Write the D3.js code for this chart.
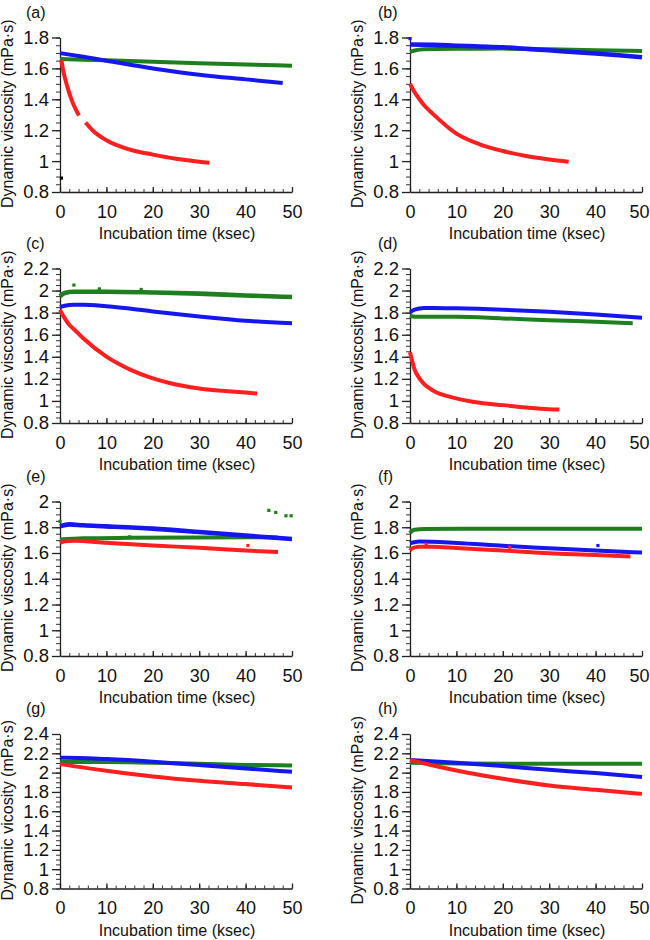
<!DOCTYPE html>
<html><head><meta charset="utf-8">
<script src="https://cdn.jsdelivr.net/npm/d3@7"></script>
<style>
body{margin:0;background:#fff}
svg{display:block}
text{font-family:"Liberation Sans",Arial,sans-serif;fill:#111}
</style>
</head><body>
<svg id="chart" width="650" height="940"></svg>
<script>
// ---------- DATA (time in ksec, dynamic viscosity in mPa·s) ----------
const panelLabels = ["(a)","(b)","(c)","(d)","(e)","(f)","(g)","(h)"];
const xTickValues = [0,10,20,30,40,50];
const yTicks18 = [0.8,1,1.2,1.4,1.6,1.8];
const yTicks20 = [0.8,1,1.2,1.4,1.6,1.8,2];
const yTicks22 = [0.8,1,1.2,1.4,1.6,1.8,2,2.2];
const yTicks24 = [0.8,1,1.2,1.4,1.6,1.8,2,2.2,2.4];
const xLabel = "Incubation time (ksec)";
const yLabel = "Dynamic viscosity (mPa·s)";
const yLabelG = "Dynamic vicosity (mPa·s)";

// (a)
const aGreen = [[0,1.661],[10,1.652],[20,1.643],[30,1.634],[40,1.625],[50,1.617]];
const aBlue  = [[0,1.699],[5,1.675],[10,1.65],[20,1.60],[30,1.559],[40,1.529],[48,1.506]];
const aRed1  = [[0.3,1.655],[0.6,1.60],[1,1.545],[1.5,1.49],[2,1.44],[3,1.36],[4.1,1.295]];
const aRed2  = [[5.5,1.25],[7,1.20],[10,1.135],[15,1.075],[20,1.042],[25,1.015],[30,0.996],[32.2,0.99]];
const aDots  = [[0.3,0.89]];
// (b)
const bGreen = [[0,1.707],[1,1.716],[3,1.724],[10,1.727],[20,1.728],[30,1.724],[40,1.717],[50,1.713]];
const bBlue  = [[0,1.755],[5,1.752],[10,1.747],[15,1.742],[20,1.737],[25,1.727],[30,1.717],[35,1.706],[40,1.696],[45,1.685],[50,1.672]];
const bRed   = [[0,1.50],[1,1.446],[2,1.402],[3,1.363],[5,1.304],[10,1.178],[15,1.109],[20,1.065],[25,1.033],[30,1.011],[34.2,0.996]];
const bDots  = [[0,1.793]];
// (c)
const cGreen = [[0,1.948],[1,1.978],[3,1.99],[10,1.99],[20,1.983],[30,1.972],[40,1.955],[50,1.942]];
const cBlue  = [[0,1.851],[1,1.863],[3,1.871],[5,1.871],[10,1.857],[20,1.811],[30,1.766],[40,1.727],[50,1.703]];
const cRed   = [[0,1.826],[1,1.75],[2,1.69],[3,1.65],[5,1.568],[10,1.401],[15,1.286],[20,1.204],[25,1.149],[30,1.113],[35,1.092],[40,1.076],[42.5,1.067]];
const cGreenDots = [[3,2.05],[8.5,2.015],[17.5,2.01]];
// (d)
const dGreen = [[0,1.772],[1,1.763],[5,1.762],[10,1.762],[20,1.748],[30,1.732],[40,1.717],[48,1.705]];
const dBlue  = [[0,1.803],[1,1.827],[3,1.842],[5,1.842],[10,1.839],[20,1.827],[30,1.809],[40,1.784],[50,1.754]];
const dRed   = [[0,1.442],[0.3,1.39],[1,1.283],[2,1.207],[3,1.155],[5,1.093],[10,1.023],[15,0.983],[20,0.962],[25,0.941],[30,0.925],[32.2,0.922]];
// (e)
const eGreen = [[0,1.704],[5,1.714],[15,1.718],[30,1.721],[45,1.722],[47,1.72]];
const eBlue  = [[0,1.807],[2,1.822],[5,1.815],[10,1.807],[20,1.789],[30,1.763],[40,1.735],[50,1.709]];
const eRed   = [[0,1.678],[1,1.691],[3,1.695],[10,1.68],[20,1.659],[30,1.64],[40,1.619],[47,1.607]];
const eGreenDots = [[0,1.846],[15,1.725],[45,1.931],[46.5,1.915],[48.7,1.889],[49.8,1.889]];
const eRedDots = [[40.5,1.658]];
// (f)
const fGreen = [[0,1.754],[0.5,1.775],[1,1.781],[3,1.787],[20,1.788],[50,1.788]];
const fBlue  = [[0,1.676],[2,1.689],[10,1.678],[20,1.656],[30,1.637],[40,1.619],[50,1.603]];
const fRed   = [[0,1.619],[0.5,1.637],[2,1.648],[5,1.648],[10,1.638],[20,1.62],[30,1.598],[40,1.585],[47.5,1.572]];
const fBlueDots = [[40.5,1.658]];
const fRedDots = [[3.5,1.668],[21.5,1.645]];
// (g)
const gGreen = [[0,2.11],[10,2.11],[20,2.102],[30,2.093],[40,2.08],[50,2.075]];
const gBlue  = [[0,2.155],[1,2.155],[10,2.14],[20,2.113],[30,2.078],[40,2.043],[50,2.009]];
const gRed   = [[0,2.088],[10,2.019],[20,1.96],[30,1.915],[40,1.881],[50,1.846]];
// (h)
const hGreen = [[0,2.103],[10,2.095],[25,2.092],[50,2.092]];
const hBlue  = [[0,2.13],[10,2.102],[20,2.068],[30,2.029],[40,1.995],[50,1.955]];
const hRed   = [[0,2.13],[5,2.074],[10,2.022],[20,1.936],[30,1.867],[40,1.822],[50,1.78]];

// ---------- STYLE / LAYOUT ----------
const RED = "#ff1f1f", GREEN = "#1f7f1f", BLUE = "#1616ee";
const colX = [60, 410];
const plotW = 232;
const rowBottom = [192, 423, 656, 888.5];
const plotH = 154.5;
const pageW = 650;

const panels = [
  {lab:0, col:0,row:0, yt:yTicks18, yl:yLabel, lines:[[aGreen,GREEN],[aBlue,BLUE],[aRed1,RED],[aRed2,RED]], dots:[[aDots,"#000"]]},
  {lab:1, col:1,row:0, yt:yTicks18, yl:yLabel, lines:[[bGreen,GREEN],[bBlue,BLUE],[bRed,RED]], dots:[[bDots,BLUE]], noisy:[1]},
  {lab:2, col:0,row:1, yt:yTicks22, yl:yLabel, lines:[[cGreen,GREEN],[cBlue,BLUE],[cRed,RED]], dots:[[cGreenDots,GREEN]], noisy:[0]},
  {lab:3, col:1,row:1, yt:yTicks22, yl:yLabel, lines:[[dGreen,GREEN],[dBlue,BLUE],[dRed,RED]], dots:[]},
  {lab:4, col:0,row:2, yt:yTicks20, yl:yLabel, lines:[[eGreen,GREEN],[eBlue,BLUE],[eRed,RED]], dots:[[eGreenDots,GREEN],[eRedDots,RED]], noisy:[1]},
  {lab:5, col:1,row:2, yt:yTicks20, yl:yLabel, lines:[[fGreen,GREEN],[fBlue,BLUE],[fRed,RED]], dots:[[fBlueDots,BLUE],[fRedDots,RED]]},
  {lab:6, col:0,row:3, yt:yTicks24, yl:yLabelG, lines:[[gGreen,GREEN],[gBlue,BLUE],[gRed,RED]], dots:[]},
  {lab:7, col:1,row:3, yt:yTicks24, yl:yLabel, lines:[[hGreen,GREEN],[hBlue,BLUE],[hRed,RED]], dots:[]}
];

const svg = d3.select("#chart");

panels.forEach(p => {
  const x0 = colX[p.col], yb = rowBottom[p.row], yTop = yb - plotH;
  const yMin = p.yt[0], yMax = p.yt[p.yt.length-1];
  const x = d3.scaleLinear().domain([0,50]).range([x0, x0+plotW]);
  const y = d3.scaleLinear().domain([yMin,yMax]).range([yb, yTop]);
  const g = svg.append("g");

  // minor ticks
  const yMinor = d3.range(Math.round((yMax-yMin)/0.05)+1).map(i => yMin + i*0.05);
  const xMinor = d3.range(0,51,2);
  g.append("g").attr("transform",`translate(${x0},0)`)
    .call(d3.axisLeft(y).tickValues(yMinor).tickSize(4).tickFormat(""))
    .call(s=>{s.select(".domain").remove(); s.selectAll("line").attr("stroke","#333").attr("stroke-width",1);});
  g.append("g").attr("transform",`translate(0,${yb})`)
    .call(d3.axisBottom(x).tickValues(xMinor).tickSize(-3).tickFormat(""))
    .call(s=>{s.select(".domain").remove(); s.selectAll("line").attr("stroke","#333").attr("stroke-width",1);});

  // major axes
  const ya = g.append("g").attr("transform",`translate(${x0},0)`)
    .call(d3.axisLeft(y).tickValues(p.yt).tickSize(8).tickSizeOuter(0).tickPadding(3).tickFormat(d3.format("~g")));
  ya.select(".domain").attr("stroke","#222").attr("stroke-width",1.3);
  ya.selectAll(".tick line").attr("stroke","#222").attr("stroke-width",1.3);
  ya.selectAll(".tick text").attr("font-size",18.5).attr("fill","#111").attr("font-family","'Liberation Sans',Arial,sans-serif");

  const xa = g.append("g").attr("transform",`translate(0,${yb})`)
    .call(d3.axisBottom(x).tickValues(xTickValues).tickSize(-5).tickSizeOuter(0).tickPadding(13));
  xa.select(".domain").attr("stroke","#222").attr("stroke-width",1.3);
  xa.selectAll(".tick line").attr("stroke","#222").attr("stroke-width",1.3);
  xa.selectAll(".tick text").attr("font-size",18).attr("fill","#111").attr("font-family","'Liberation Sans',Arial,sans-serif");
  // keep the last label inside the page at the right edge
  if (x(50) + 11 > pageW) {
    xa.selectAll(".tick text").filter(d => d === 50)
      .attr("text-anchor","end").attr("x", pageW - 1 - x(50));
  }

  // series lines
  const line = d3.line().x(d=>x(d[0])).y(d=>y(d[1])).curve(d3.curveMonotoneX);
  p.lines.forEach((ln,i) => {
    g.append("path").datum(ln[0]).attr("d",line).attr("fill","none")
      .attr("stroke",ln[1]).attr("stroke-width",(p.noisy||[]).includes(i)?4.6:4)
      .attr("stroke-linecap","butt").attr("stroke-linejoin","round");
  });
  // stray points
  p.dots.forEach(ds => {
    g.selectAll(null).data(ds[0]).enter().append("rect")
      .attr("x",d=>x(d[0])-1.6).attr("y",d=>y(d[1])-1.6)
      .attr("width",3.2).attr("height",3.2).attr("fill",ds[1]);
  });

  // panel label
  g.append("text").attr("x", p.col===0 ? 26 : 378).attr("y", yTop-20)
    .attr("font-size",16).text(panelLabels[p.lab]);
  // y label
  g.append("text").attr("transform",`translate(${x0-47},${(yb+yTop)/2-1}) rotate(-90)`)
    .attr("text-anchor","middle").attr("font-size",16).text(p.yl);
  // x label
  g.append("text").attr("x", x0+plotW/2+1).attr("y", yb+47)
    .attr("text-anchor","middle").attr("font-size",16).text(xLabel);
});
</script>
</body></html>
